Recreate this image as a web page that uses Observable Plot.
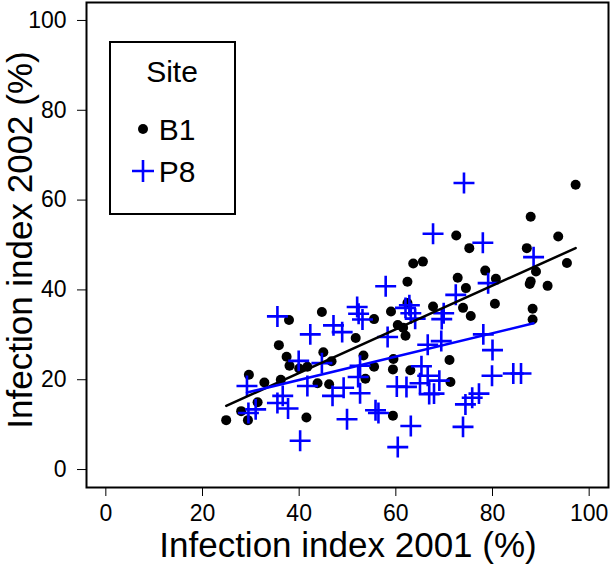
<!DOCTYPE html>
<html>
<head>
<meta charset="utf-8">
<script src="https://cdn.jsdelivr.net/npm/d3@7"></script>
<script src="https://cdn.jsdelivr.net/npm/@observablehq/plot@0.6"></script>
<style>
  body { margin: 0; background: #fff; }
  #chart { width: 611px; height: 566px; }
</style>
</head>
<body>
<div id="chart"></div>
<script>
// ---- Data ----
const xTitle = "Infection index 2001 (%)";
const yTitle = "Infection index 2002 (%)";
const legendTitle = "Site";
const sites = ["B1", "P8"];
const xTicks = [0, 20, 40, 60, 80, 100];
const yTicks = [0, 20, 40, 60, 80, 100];

const b1X = [24.9, 28.0, 29.4, 29.6, 31.4, 32.8, 35.8, 36.2, 37.9, 37.4, 38.0, 40.0, 41.7, 41.5, 43.8,
  44.7, 45.0, 46.7, 46.2, 51.7, 53.3, 53.7, 55.5, 55.5, 59.0, 59.5, 59.4, 59.4, 60.4, 61.5,
  62.0, 62.4, 62.4, 63.0, 63.6, 65.6, 67.7, 71.1, 71.3, 72.5, 72.8, 73.9, 74.5, 75.2, 75.5,
  78.5, 80.7, 80.5, 87.1, 87.9, 87.7, 87.9, 89.0, 88.3, 88.3, 91.4, 93.6, 95.4, 97.2];
const b1Y = [11.0, 13.0, 11.0, 21.1, 15.0, 19.4, 27.7, 20.0, 33.3, 25.1, 23.1, 22.5, 22.9, 11.6, 19.2,
  35.1, 26.1, 24.1, 19.0, 29.3, 25.4, 20.2, 33.5, 22.9, 35.2, 24.6, 22.3, 12.0, 32.2, 31.6,
  29.8, 41.8, 37.1, 22.1, 45.9, 46.3, 36.3, 24.4, 19.5, 52.1, 42.7, 36.0, 40.4, 49.3, 34.2,
  44.3, 42.5, 36.9, 49.3, 56.3, 41.3, 41.9, 44.1, 35.8, 33.4, 40.9, 51.9, 46.0, 63.4];

const p8X = [29.2, 29.5, 31.0, 35.5, 35.5, 36.6, 37.7, 39.9, 40.2, 41.7, 42.3, 44.7, 46.9, 47.1, 48.9,
  49.2, 49.9, 52.0, 52.3, 53.1, 52.2, 52.6, 52.6, 55.8, 56.4, 57.9, 58.3, 60.2, 60.4, 62.2,
  62.0, 62.8, 63.1, 64.0, 63.1, 65.3, 65.0, 66.6, 66.6, 66.9, 67.9, 67.7, 69.0, 69.4, 69.5,
  69.9, 72.4, 73.9, 74.1, 74.4, 75.8, 77.2, 78.1, 78.0, 79.1, 80.0, 79.9, 84.3, 85.9, 88.5];
const p8Y = [18.6, 12.6, 13.4, 34.1, 14.8, 16.4, 13.6, 24.2, 6.4, 18.6, 30.1, 23.7, 16.4, 32.1, 30.6,
  18.2, 11.2, 36.2, 34.7, 33.4, 20.6, 17.0, 23.1, 13.2, 12.6, 40.8, 29.5, 18.5, 5.0, 18.4,
  36.0, 36.6, 34.8, 33.6, 9.7, 23.0, 19.2, 20.9, 27.8, 16.8, 16.9, 52.5, 19.8, 28.6, 33.5,
  34.8, 38.9, 9.5, 63.8, 14.5, 16.0, 16.9, 30.1, 50.5, 41.5, 26.6, 20.9, 21.4, 21.4, 47.3];

const colors = ["#000000", "#0000ff"];

// ---- Tables built from the arrays ----
const b1 = b1X.map((x, i) => ({site: sites[0], x, y: b1Y[i]}));
const p8 = p8X.map((x, i) => ({site: sites[1], x, y: p8Y[i]}));

const font = "'Liberation Sans', Arial, Helvetica, sans-serif";

const plot = Plot.plot({
  width: 611,
  height: 566,
  marginLeft: 86,
  marginRight: 3,
  marginTop: 2,
  marginBottom: 79,
  style: {fontFamily: font, color: "#000", background: "#fff", overflow: "visible"},
  x: {domain: [-4, 104]},
  y: {domain: [-4, 104]},
  marks: [
    Plot.axisX({ticks: xTicks, tickSize: 9, tickPadding: 8, fontSize: 23, label: null, tickFormat: d => String(d)}),
    Plot.axisY({ticks: yTicks, tickSize: 9, tickPadding: 11, fontSize: 23, label: null, tickFormat: d => String(d)}),
    Plot.dot(b1, {x: "x", y: "y", r: 5, fill: colors[0], stroke: "none"}),
    Plot.dot(p8, {x: "x", y: "y", symbol: "plus", r: 6.8, stroke: colors[1], strokeWidth: 2.6, fill: "none"}),
    Plot.linearRegressionY(b1, {x: "x", y: "y", stroke: colors[0], strokeWidth: 2.5, ci: 0}),
    Plot.linearRegressionY(p8, {x: "x", y: "y", stroke: colors[1], strokeWidth: 2.5, ci: 0}),
    Plot.frame({stroke: "#000", strokeWidth: 2})
  ]
});

document.getElementById("chart").appendChild(plot);

// ---- Axis titles and legend ----
const svg = d3.select(plot);

svg.append("text")
  .attr("x", 348).attr("y", 557)
  .attr("text-anchor", "middle")
  .attr("font-family", font).attr("font-size", 35).attr("fill", "#000")
  .text(xTitle);

svg.append("text")
  .attr("transform", "translate(32,240) rotate(-90)")
  .attr("text-anchor", "middle")
  .attr("font-family", font).attr("font-size", 35).attr("fill", "#000")
  .text(yTitle);

const lg = svg.append("g");
lg.append("rect")
  .attr("x", 110).attr("y", 42).attr("width", 125).attr("height", 172)
  .attr("fill", "#fff").attr("stroke", "#000").attr("stroke-width", 2);
lg.append("text")
  .attr("x", 172).attr("y", 82).attr("text-anchor", "middle")
  .attr("font-family", font).attr("font-size", 30).attr("fill", "#000")
  .text(legendTitle);
lg.append("circle").attr("cx", 143).attr("cy", 129).attr("r", 5).attr("fill", colors[0]);
lg.append("text")
  .attr("x", 177).attr("y", 140)
  .attr("font-family", font).attr("font-size", 30).attr("fill", "#000")
  .text(sites[0]);
lg.append("path")
  .attr("d", "M132,171H154M143,160V182")
  .attr("stroke", colors[1]).attr("stroke-width", 2.6).attr("fill", "none");
lg.append("text")
  .attr("x", 177).attr("y", 182)
  .attr("font-family", font).attr("font-size", 30).attr("fill", "#000")
  .text(sites[1]);
</script>
</body>
</html>
